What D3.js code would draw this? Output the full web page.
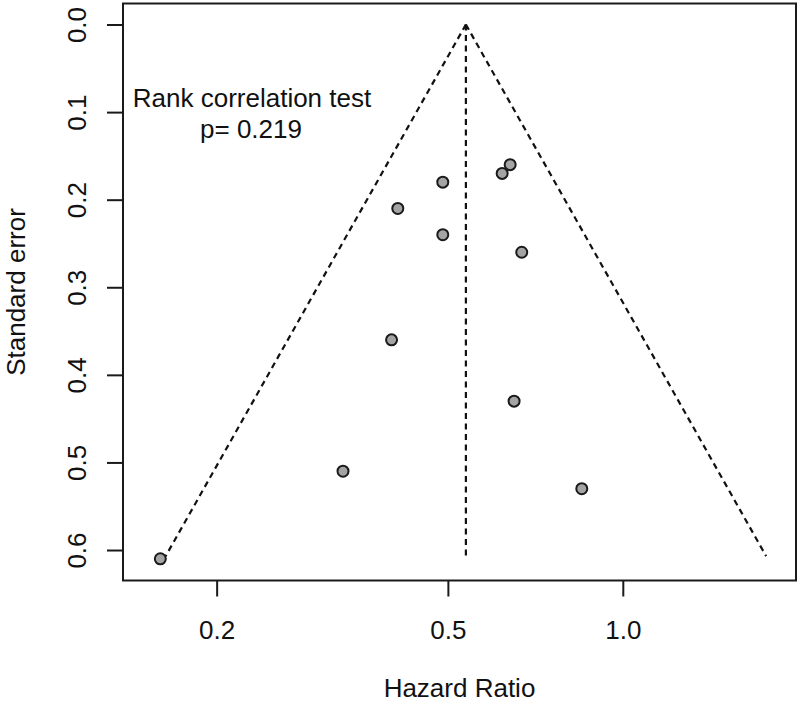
<!DOCTYPE html>
<html>
<head>
<meta charset="utf-8">
<script src="https://cdn.jsdelivr.net/npm/d3@7"></script>
<style>
  html, body { margin: 0; padding: 0; background: #fff; }
  svg { display: block; }
  text { font-family: "Liberation Sans", Arial, Helvetica, sans-serif; fill: #111; }
</style>
</head>
<body>
<svg id="chart" width="800" height="704"></svg>
<script>
// ---- data ----
const hazardRatio   = [0.16, 0.33, 0.40, 0.41, 0.49, 0.49, 0.62, 0.64, 0.67, 0.65, 0.85];
const standardError = [0.61, 0.51, 0.36, 0.21, 0.18, 0.24, 0.17, 0.16, 0.26, 0.43, 0.53];
const pooledHR = 0.537;
const funnelMaxSE = 0.607;
const xTicks = [0.2, 0.5, 1.0];
const yTicks = [0.0, 0.1, 0.2, 0.3, 0.4, 0.5, 0.6];
const annotation = ["Rank correlation test", "p= 0.219"];
const xTitle = "Hazard Ratio";
const yTitle = "Standard error";

// ---- layout ----
const svg = d3.select("#chart");
const L = 123, R = 796, T = 3.5, B = 580.5;
const FS = 26;

const x = d3.scaleLog().domain([0.1380, 1.9864]).range([L, R]);
const y = d3.scaleLinear().domain([-0.024, 0.6348]).range([T, B]);

// funnel
const apex = [x(pooledHR), y(0)];
const z = 1.96;
const leftEnd = [x(Math.exp(Math.log(pooledHR) - z * funnelMaxSE)), y(funnelMaxSE)];
const rightEnd = [x(Math.exp(Math.log(pooledHR) + z * funnelMaxSE)), y(funnelMaxSE)];
const dash = "6,4.5";
const lineStyle = sel => sel.attr("stroke", "#111").attr("stroke-width", 2.2)
  .attr("stroke-dasharray", dash).attr("fill", "none");

svg.append("line").attr("x1", apex[0]).attr("y1", apex[1]).attr("x2", leftEnd[0]).attr("y2", leftEnd[1]).call(lineStyle);
svg.append("line").attr("x1", apex[0]).attr("y1", apex[1]).attr("x2", rightEnd[0]).attr("y2", rightEnd[1]).call(lineStyle);
svg.append("line").attr("x1", apex[0]).attr("y1", apex[1]).attr("x2", apex[0]).attr("y2", y(funnelMaxSE)).call(lineStyle);

// points
svg.append("g").selectAll("circle")
  .data(hazardRatio.map((d, i) => ({hr: d, se: standardError[i]})))
  .join("circle")
  .attr("cx", d => x(d.hr))
  .attr("cy", d => y(d.se))
  .attr("r", 5.5)
  .attr("fill", "#a4a4a4")
  .attr("stroke", "#1a1a1a")
  .attr("stroke-width", 2);

// box
svg.append("rect").attr("x", L).attr("y", T).attr("width", R - L).attr("height", B - T)
  .attr("fill", "none").attr("stroke", "#1a1a1a").attr("stroke-width", 2);

// x axis
const xAxis = d3.axisBottom(x).tickValues(xTicks).tickFormat(d3.format(".1f"))
  .tickSize(16).tickPadding(0);
const gx = svg.append("g").attr("transform", `translate(0,${B})`).call(xAxis);
gx.select(".domain").remove();
gx.selectAll(".tick line").attr("stroke", "#1a1a1a").attr("stroke-width", 2);
gx.selectAll(".tick text").attr("font-size", FS).attr("dy", null).attr("y", 58)
  .attr("fill", "#111");

// y axis
const yAxis = d3.axisLeft(y).tickValues(yTicks).tickFormat(d3.format(".1f"))
  .tickSize(16).tickPadding(0);
const gy = svg.append("g").attr("transform", `translate(${L},0)`).call(yAxis);
gy.select(".domain").remove();
gy.selectAll(".tick line").attr("stroke", "#1a1a1a").attr("stroke-width", 2);
gy.selectAll(".tick text").attr("font-size", FS).attr("x", null).attr("dy", null)
  .attr("text-anchor", "middle")
  .attr("transform", "translate(-37,0) rotate(-90)")
  .attr("fill", "#111");

// titles
svg.append("text").attr("x", (L + R) / 2).attr("y", 697).attr("text-anchor", "middle")
  .attr("font-size", FS).text(xTitle);
svg.append("text").attr("transform", `translate(25,${(T + B) / 2}) rotate(-90)`)
  .attr("text-anchor", "middle").attr("font-size", FS).text(yTitle);

// annotation
svg.append("text").attr("x", 252).attr("y", 107).attr("text-anchor", "middle")
  .attr("font-size", FS).text(annotation[0]);
svg.append("text").attr("x", 251).attr("y", 138).attr("text-anchor", "middle")
  .attr("font-size", FS).text(annotation[1]);
</script>
</body>
</html>
